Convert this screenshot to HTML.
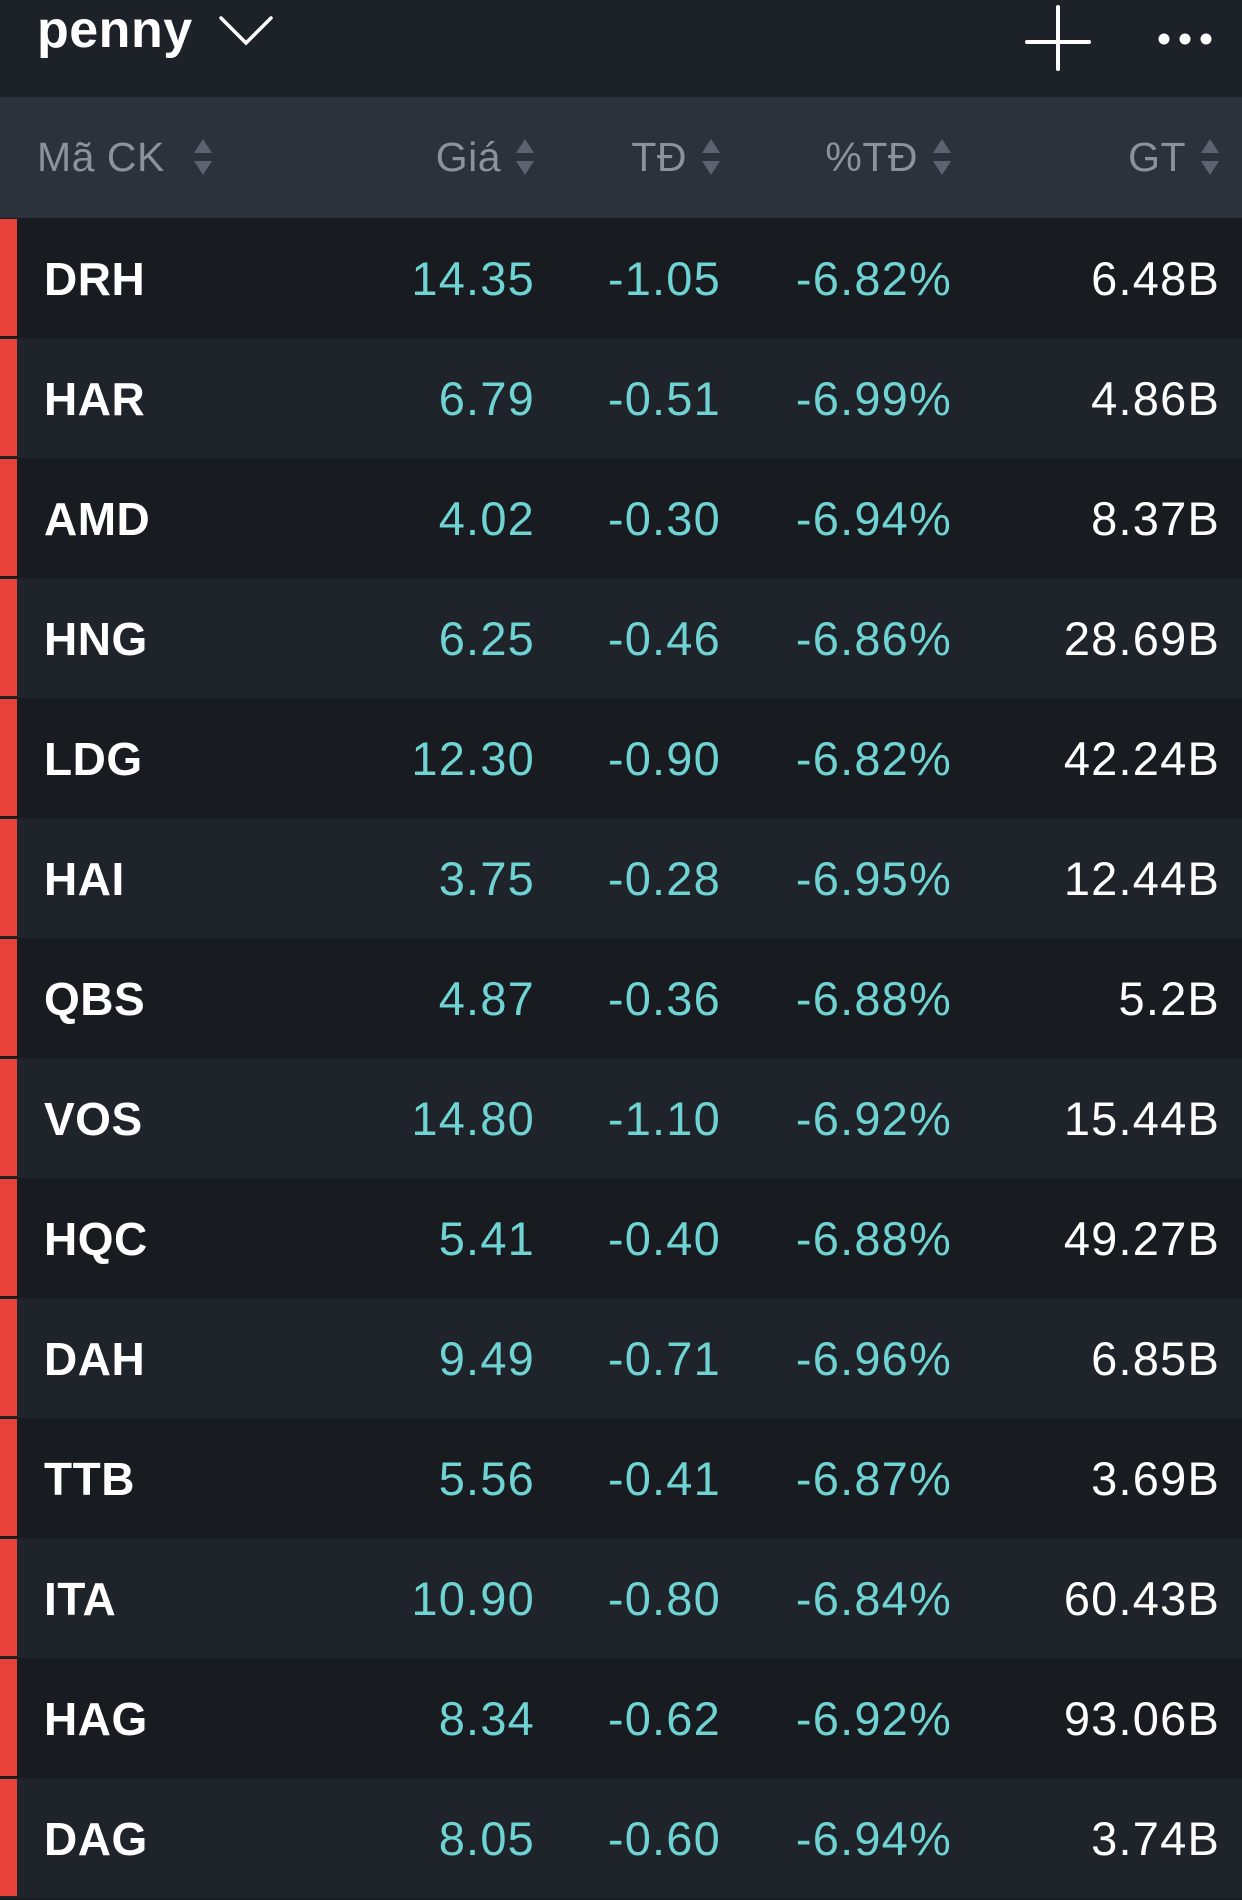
<!DOCTYPE html>
<html><head><meta charset="utf-8"><style>
body{margin:0;width:1242px;height:1886px;overflow:hidden;background:#181b20;font-family:"Liberation Sans",sans-serif;position:relative}
.top{position:absolute;left:0;top:0;width:1242px;height:97px;background:#1d2128}
.title{position:absolute;left:37px;top:0px;font-size:52px;color:#fff;font-weight:bold;letter-spacing:0.5px}
.hdr{position:absolute;left:0;top:97px;width:1242px;height:121px;background:#2c323c}
.h{position:absolute;top:0;height:121px;line-height:121px;font-size:41px;color:#8a929c;white-space:nowrap;letter-spacing:0.5px}
.ar{display:inline-block;vertical-align:middle;margin-left:14px;width:20px;height:40px;position:relative;top:-3px}
.row{position:absolute;left:0;width:1242px;height:120px}
.red{position:absolute;left:0;top:1px;width:17px;height:117px;background:#e8413a}
.c{position:absolute;top:0;height:120px;line-height:122px;font-size:47px;white-space:nowrap;letter-spacing:1.2px}
.sym{left:44px;color:#fff;font-weight:bold;font-size:46px;letter-spacing:0.5px}
.t{color:#6fd3d3;text-align:right}
.w{color:#fff;text-align:right}
</style></head><body>
<div class="top">
 <div class="title">penny</div>
 <svg style="position:absolute;left:218px;top:15px" width="56" height="32"><polyline points="3,3 28,28 53,3" fill="none" stroke="#fff" stroke-width="3.5" stroke-linecap="round"/></svg>
 <svg style="position:absolute;left:1025px;top:5px" width="66" height="66"><line x1="33" y1="2" x2="33" y2="64" stroke="#fff" stroke-width="4" stroke-linecap="round"/><line x1="2" y1="37" x2="64" y2="37" stroke="#fff" stroke-width="4" stroke-linecap="round"/></svg>
 <svg style="position:absolute;left:1155px;top:30px" width="60" height="20"><circle cx="9" cy="9" r="5.5" fill="#fff"/><circle cx="30" cy="9" r="5.5" fill="#fff"/><circle cx="51" cy="9" r="5.5" fill="#fff"/></svg>
</div>
<div class="hdr" id="hdr"></div>
<div id="rows"></div>
<script>
const symbols=["DRH","HAR","AMD","HNG","LDG","HAI","QBS","VOS","HQC","DAH","TTB","ITA","HAG","DAG"];
const prices=["14.35","6.79","4.02","6.25","12.30","3.75","4.87","14.80","5.41","9.49","5.56","10.90","8.34","8.05"];
const changes=["-1.05","-0.51","-0.30","-0.46","-0.90","-0.28","-0.36","-1.10","-0.40","-0.71","-0.41","-0.80","-0.62","-0.60"];
const pcts=["-6.82%","-6.99%","-6.94%","-6.86%","-6.82%","-6.95%","-6.88%","-6.92%","-6.88%","-6.96%","-6.87%","-6.84%","-6.92%","-6.94%"];
const values=["6.48B","4.86B","8.37B","28.69B","42.24B","12.44B","5.2B","15.44B","49.27B","6.85B","3.69B","60.43B","93.06B","3.74B"];
const headers=["Mã CK","Giá","TĐ","%TĐ","GT"];
const arrow='<svg class="ar" viewBox="0 0 20 40"><polygon points="10,2 19,16 1,16" fill="#5b6370"/><polygon points="10,38 19,24 1,24" fill="#5b6370"/></svg>';
const hdr=document.getElementById('hdr');
const hRight=[null,535,721,952,1220];
headers.forEach((h,i)=>{
 const d=document.createElement('div');d.className='h';
 
 
 d.innerHTML=h+arrow;
 if(i===0){d.style.left='37px';d.querySelector('.ar').style.marginLeft='28px';}
 else d.style.right=(1242-hRight[i])+'px';
 hdr.appendChild(d);
});
const rows=document.getElementById('rows');
const rh=120;
symbols.forEach((s,i)=>{
 const r=document.createElement('div');r.className='row';
 
 
 r.style.top=(218+i*rh)+'px';r.style.background=i%2?'#1f232a':'#181b20';
 const red=document.createElement('div');red.className='red';
 
 
 r.appendChild(red);
 const cells=[[s,'c sym',null],[prices[i],'c t',535],[changes[i],'c t',721],[pcts[i],'c t',952],[values[i],'c w',1220]];
 const names=['symbol','price','change','percent-change','value'];
 cells.forEach((c,j)=>{
  const d=document.createElement('div');d.className=c[1];d.textContent=c[0];
  
  
  if(c[2])d.style.right=(1242-c[2])+'px';
  r.appendChild(d);
 });
 rows.appendChild(r);
});
</script>
</body></html>
